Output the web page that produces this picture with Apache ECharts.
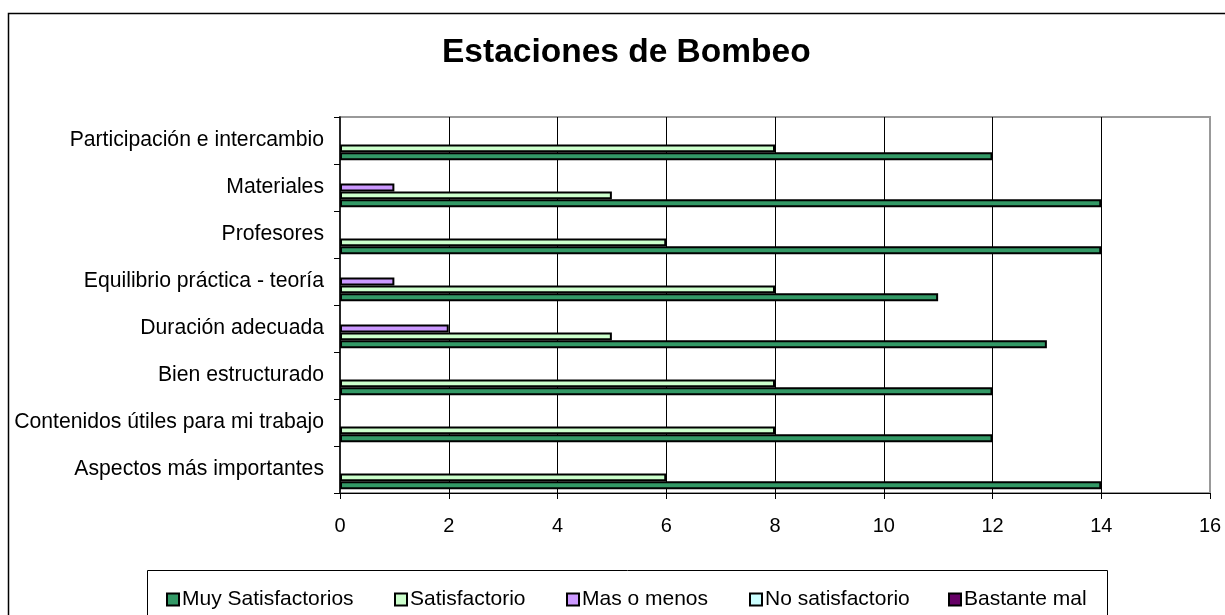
<!DOCTYPE html>
<html>
<head>
<meta charset="utf-8">
<title>Estaciones de Bombeo</title>
<script src="https://cdn.jsdelivr.net/npm/echarts@6/dist/echarts.min.js"></script>
<style>
  html, body { margin: 0; padding: 0; background: #fff; }
  #chart { width: 1225px; height: 615px; }
</style>
</head>
<body>
<div id="chart"></div>
<script>
// categorias de abajo hacia arriba
var categories = [
  'Aspectos más importantes',
  'Contenidos útiles para mi trabajo',
  'Bien estructurado',
  'Duración adecuada',
  'Equilibrio práctica - teoría',
  'Profesores',
  'Materiales',
  'Participación e intercambio'
];
var muySatisfactorios = [14, 12, 12, 13, 11, 14, 14, 12];
var satisfactorio     = [6, 8, 8, 5, 8, 6, 5, 8];
var masOMenos         = [0, 0, 0, 2, 1, 0, 1, 0];
var noSatisfactorio   = [0, 0, 0, 0, 0, 0, 0, 0];
var bastanteMal       = [0, 0, 0, 0, 0, 0, 0, 0];
var xTicks = { min: 0, max: 16, interval: 2 };

var FONT = '"Liberation Sans", Arial, sans-serif';

var seriesDefs = [
  { name: 'Muy Satisfactorios', data: muySatisfactorios, color: '#339966' },
  { name: 'Satisfactorio', data: satisfactorio, color: '#CCFFCC' },
  { name: 'Mas o menos', data: masOMenos, color: '#CC99FF' },
  { name: 'No satisfactorio', data: noSatisfactorio, color: '#CCFFFF' },
  { name: 'Bastante mal', data: bastanteMal, color: '#660066' }
];
// x de cada icono de la leyenda
var legendX = [166, 394, 566, 749, 948];

var chart = echarts.init(document.getElementById('chart'));

// los valores 0 no se dibujan
function toBars(arr) {
  return arr.map(function (v) { return v === 0 ? '-' : v; });
}

// orden invertido para que "Muy Satisfactorios" quede abajo en cada grupo
var series = seriesDefs.slice().reverse().map(function (s) {
  return {
    name: s.name,
    type: 'bar',
    data: toBars(s.data),
    barGap: '0%',
    barCategoryGap: '16%',
    itemStyle: { color: s.color, borderColor: '#000', borderWidth: 2 },
    emphasis: { disabled: true },
    animation: false
  };
});

var legends = seriesDefs.map(function (s, i) {
  return {
    data: [s.name],
    left: legendX[i],
    top: 589,
    padding: 0,
    itemWidth: 12,
    itemHeight: 12,
    itemGap: 0,
    icon: 'rect',
    textStyle: { fontFamily: FONT, fontSize: 21, color: '#000', padding: [0, 0, 0, -2] }
  };
});

var option = {
  backgroundColor: '#fff',
  animation: false,
  title: {
    text: 'Estaciones de Bombeo',
    left: 442,
    top: 36,
    padding: 0,
    textStyle: { fontFamily: FONT, fontSize: 33.5, fontWeight: 'bold', color: '#000' }
  },
  legend: legends,
  grid: {
    left: 340,
    right: 15,
    top: 117,
    bottom: 122,
    show: true,
    borderColor: '#999',
    borderWidth: 2,
    backgroundColor: '#fff'
  },
  xAxis: {
    type: 'value',
    min: xTicks.min,
    max: xTicks.max,
    interval: xTicks.interval,
    axisLine: { show: true, lineStyle: { color: '#000', width: 1 } },
    axisTick: { show: true, length: 6, lineStyle: { color: '#000' } },
    axisLabel: { fontFamily: FONT, fontSize: 20, color: '#000', margin: 23 },
    splitLine: { show: true, showMinLine: false, showMaxLine: false, lineStyle: { color: '#000', width: 1 } }
  },
  yAxis: {
    type: 'category',
    data: categories,
    axisLine: { show: true, lineStyle: { color: '#000', width: 1.5 } },
    axisTick: { show: true, length: 6, lineStyle: { color: '#000' } },
    axisLabel: { fontFamily: FONT, fontSize: 21.2, color: '#000', margin: 16 }
  },
  graphic: [
    {
      type: 'rect',
      shape: { x: 8.5, y: 13.5, width: 1400, height: 800 },
      style: { fill: 'none', stroke: '#000', lineWidth: 1.5 },
      silent: true,
      z: -10
    },
    {
      type: 'rect',
      shape: { x: 147.5, y: 570.5, width: 960, height: 100 },
      style: { fill: 'none', stroke: '#000', lineWidth: 1 },
      silent: true,
      z: -10
    }
  ],
  series: series
};

chart.setOption(option);
window.addEventListener('resize', function () { chart.resize(); }, false);
</script>
</body>
</html>
